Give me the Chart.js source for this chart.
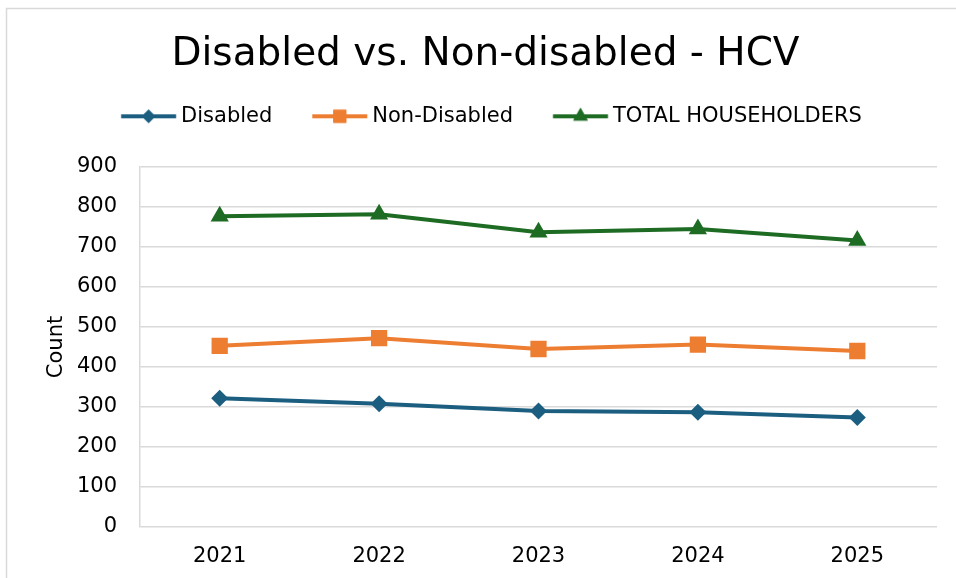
<!DOCTYPE html>
<html>
<head>
<meta charset="utf-8">
<script src="https://cdn.jsdelivr.net/npm/chart.js@4.4.1/dist/chart.umd.min.js"></script>
<style>
  html, body { margin: 0; padding: 0; background: #fff; }
  #wrap { position: absolute; left: 0; top: 0; width: 956px; height: 578px; }
</style>
</head>
<body>
<div id="wrap"><canvas id="chart" width="956" height="578"></canvas></div>
<script>
/* ================= DATA ================= */
const years = ["2021", "2022", "2023", "2024", "2025"];
const disabled = [322, 308, 290, 287, 274];
const nonDisabled = [453, 472, 445, 456, 440];
const totalHouseholders = [777, 782, 737, 745, 716];
const yTicks = [0, 100, 200, 300, 400, 500, 600, 700, 800, 900];

/* ================= STYLE ================= */
const FONT = "'DejaVu Sans', Verdana, sans-serif";
const BLUE = "#1b5e80";
const ORANGE = "#ed7d31";
const GREEN = "#1e6b23";
const GRID = "#d9d9d9";

/* legend icon: line with marker, sized for the legend box */
const LEG_BOX = 61.5, LEG_START = 12, LEG_LINE = 55;
function legendIcon(color, style, radius) {
    const c = LEG_BOX / 2;
    const half = Math.ceil(Math.max(c - LEG_START, LEG_START + LEG_LINE - c)) + 1;
    const cv = document.createElement("canvas");
    cv.width = half * 2;
    cv.height = 26;
    const ctx = cv.getContext("2d");
    const x0 = half + (LEG_START - c);
    const mid = x0 + LEG_LINE / 2;
    ctx.strokeStyle = color;
    ctx.lineWidth = 4;
    ctx.beginPath();
    ctx.moveTo(x0, 13);
    ctx.lineTo(x0 + LEG_LINE, 13);
    ctx.stroke();
    ctx.fillStyle = color;
    Chart.helpers.drawPoint(ctx, { pointStyle: style, radius: radius, rotation: 0, borderWidth: 0 }, mid, 13);
    ctx.fill();
    return cv;
}

/* chart frame */
const framePlugin = {
    id: "frame",
    beforeDraw(chart) {
        const ctx = chart.ctx;
        ctx.save();
        ctx.strokeStyle = GRID;
        ctx.lineWidth = 1.5;
        ctx.strokeRect(6.5, 8.5, 1000, 700);
        ctx.restore();
    }
};

const series = [
    { label: "Disabled", data: disabled, color: BLUE, style: "rectRot", r: 8.5 },
    { label: "Non-Disabled", data: nonDisabled, color: ORANGE, style: "rect", r: 11.5 },
    { label: "TOTAL HOUSEHOLDERS", data: totalHouseholders, color: GREEN, style: "triangle", r: 10.5 }
];

/* ================= CHART ================= */
new Chart(document.getElementById("chart"), {
    type: "line",
    data: {
        labels: years,
        datasets: series.map(s => ({
            label: s.label,
            data: s.data,
            borderColor: s.color,
            backgroundColor: s.color,
            borderWidth: 4,
            pointStyle: s.style,
            pointRadius: s.r,
            pointHoverRadius: s.r,
            pointBorderWidth: 0,
            tension: 0,
            legendIcon: legendIcon(s.color, s.style, s.r * 0.8)
        }))
    },
    options: {
        responsive: false,
        animation: false,
        devicePixelRatio: 1,
        layout: { padding: { left: 34, right: 19, top: 0, bottom: 0 } },
        plugins: {
            title: {
                display: true,
                text: "Disabled vs. Non-disabled - HCV",
                color: "#000",
                font: { family: FONT, size: 39, weight: "normal" },
                padding: { top: 31, bottom: 0 }
            },
            subtitle: {
                display: true,
                text: "",
                weight: 500,
                font: { size: 1 },
                padding: { top: 29, bottom: 0 }
            },
            legend: {
                labels: {
                    color: "#000",
                    font: { family: FONT, size: 21 },
                    padding: 28,
                    usePointStyle: true,
                    pointStyleWidth: LEG_BOX,
                    boxHeight: 21,
                    generateLabels(chart) {
                        return chart.data.datasets.map((ds, i) => ({
                            text: ds.label,
                            pointStyle: ds.legendIcon,
                            fillStyle: ds.borderColor,
                            strokeStyle: ds.borderColor,
                            lineWidth: 0,
                            fontColor: "#000",
                            hidden: false,
                            datasetIndex: i
                        }));
                    }
                }
            },
            tooltip: { enabled: false }
        },
        scales: {
            x: {
                offset: true,
                grid: { display: false, drawTicks: false },
                border: { display: false },
                ticks: {
                    color: "#000",
                    padding: 17,
                    font: { family: FONT, size: 21 }
                },
                afterFit(scale) { scale.height = 51; }
            },
            y: {
                min: 0,
                max: 900,
                afterBuildTicks(scale) { scale.ticks = yTicks.map(v => ({ value: v })); },
                grid: { color: GRID, lineWidth: 1.5, drawTicks: false },
                border: { display: true, color: GRID, width: 1.5 },
                ticks: {
                    color: "#000",
                    padding: 23,
                    font: { family: FONT, size: 21 }
                },
                title: {
                    display: true,
                    text: "Count",
                    color: "#000",
                    font: { family: FONT, size: 21 },
                    padding: { top: 10, bottom: 0 }
                },
                afterFit(scale) { scale.width = 106; }
            }
        }
    },
    plugins: [framePlugin]
});
</script>
</body>
</html>
